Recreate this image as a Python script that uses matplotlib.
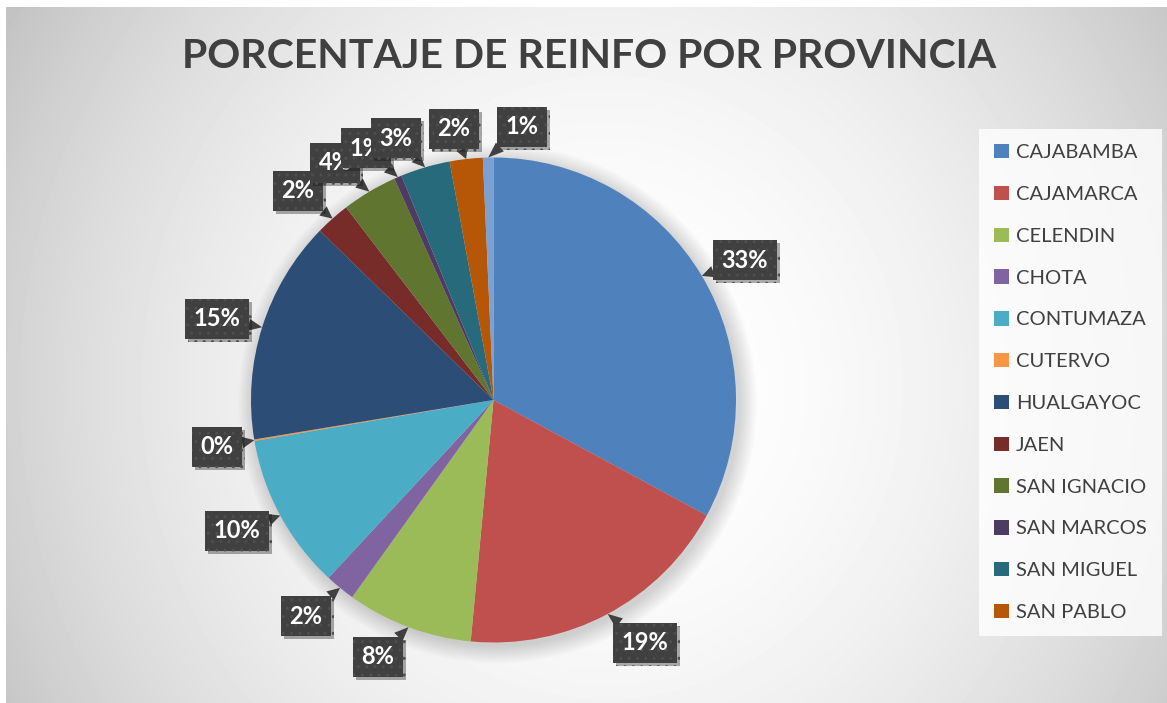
import numpy as np
import matplotlib.pyplot as plt
import matplotlib.patheffects as pe
from matplotlib.patches import Circle

# datos (porcentaje de REINFO por provincia)
provincias = ['CAJABAMBA', 'CAJAMARCA', 'CELENDIN', 'CHOTA', 'CONTUMAZA', 'CUTERVO',
              'HUALGAYOC', 'JAEN', 'SAN IGNACIO', 'SAN MARCOS', 'SAN MIGUEL', 'SAN PABLO', '']
porcentajes = [32.9, 18.6, 8.4, 2.0, 10.4, 0.1, 14.9, 2.3, 3.7, 0.5, 3.3, 2.2, 0.7]
etiquetas = ['33%', '19%', '8%', '2%', '10%', '0%', '15%', '2%', '4%', '1%', '3%', '2%', '1%']

colores = ['#4f81bd', '#c0504d', '#9bbb59', '#8064a2', '#4bacc6', '#f79646',
           '#2c4d75', '#772c2a', '#5f7530', '#4d3b62', '#276a7c', '#b65708', '#7ba0d2']

# centro de cada etiqueta en pixeles (x, y desde arriba)
pos_etiquetas = [(745, 260), (645, 643), (378, 657), (306, 616), (237, 531), (217, 447),
                 (217, 319), (298, 191), (335, 163), (366, 148), (396, 138), (454, 129), (522, 127)]

W, H = 1167, 703
fig = plt.figure(figsize=(W / 100, H / 100), dpi=100)
fig.patch.set_facecolor('white')
ax = fig.add_axes([0, 0, 1, 1])

# fondo con degradado radial
yy, xx = np.mgrid[0:H - 7, 0:W - 6]
r2 = ((xx - 600) / 590.0) ** 2 + ((yy - 380) / 620.0) ** 2
fondo = np.clip(1 - 0.17 * r2, 0, 1)
ax.imshow(fondo, cmap='gray', vmin=0, vmax=1, extent=(6, W, 0, H - 7),
          origin='upper', zorder=0, aspect='auto')

cx, cy, R = 493.5, H - 400, 242.5

# sombra suave del pastel
for k in range(14):
    ax.add_patch(Circle((cx + 4, cy - 4), R + k * 1.3, fc='black', ec='none',
                        alpha=0.012, zorder=1))

wedges, _ = ax.pie(porcentajes, colors=colores, startangle=90, counterclock=False,
                   radius=R, center=(cx, cy), wedgeprops=dict(linewidth=0))
for w in wedges:
    w.set_zorder(2)

for w, txt, (lx, ly) in zip(wedges, etiquetas, pos_etiquetas):
    ang = np.deg2rad((w.theta1 + w.theta2) / 2)
    pt = (cx + R * np.cos(ang), cy + R * np.sin(ang))
    t = ax.annotate(txt, xy=pt, xytext=(lx, H - ly), ha='center', va='center',
                    color='white', fontsize=17, fontweight='bold', family=['Lato', 'DejaVu Sans'],
                    bbox=dict(boxstyle='square,pad=0.36', fc='#404040', ec='#4e4e4e',
                              lw=0.0, hatch='..'),
                    arrowprops=dict(arrowstyle='wedge,tail_width=0.5,shrink_factor=0.5',
                                    fc='#404040', ec='none', shrinkA=0, shrinkB=0),
                    zorder=5)
    t.get_bbox_patch().set_path_effects([pe.SimplePatchShadow(offset=(2, -2), alpha=0.35),
                                         pe.Normal()])

leg = ax.legend(wedges[:12], provincias[:12], loc='upper left',
                bbox_to_anchor=(979 / W, 1 - 129 / H), bbox_transform=fig.transFigure,
                frameon=True, fancybox=False, prop=dict(family=['Lato', 'DejaVu Sans'], size=14.5),
                labelcolor='#404040', handlelength=0.72, handleheight=0.72,
                handletextpad=0.35, labelspacing=1.22, borderpad=0.75, borderaxespad=0)
leg.get_frame().set_facecolor((1, 1, 1, 0.3))
leg.get_frame().set_edgecolor('none')

ax.text(589, H - 57, 'PORCENTAJE DE REINFO POR PROVINCIA', ha='center', va='center',
        fontsize=29.5, fontweight='bold', color='#404040', family=['Lato', 'DejaVu Sans'])

ax.set_xlim(0, W)
ax.set_ylim(0, H)
ax.set_aspect('auto')
ax.axis('off')
plt.savefig('out.png', dpi=100, facecolor='white')
